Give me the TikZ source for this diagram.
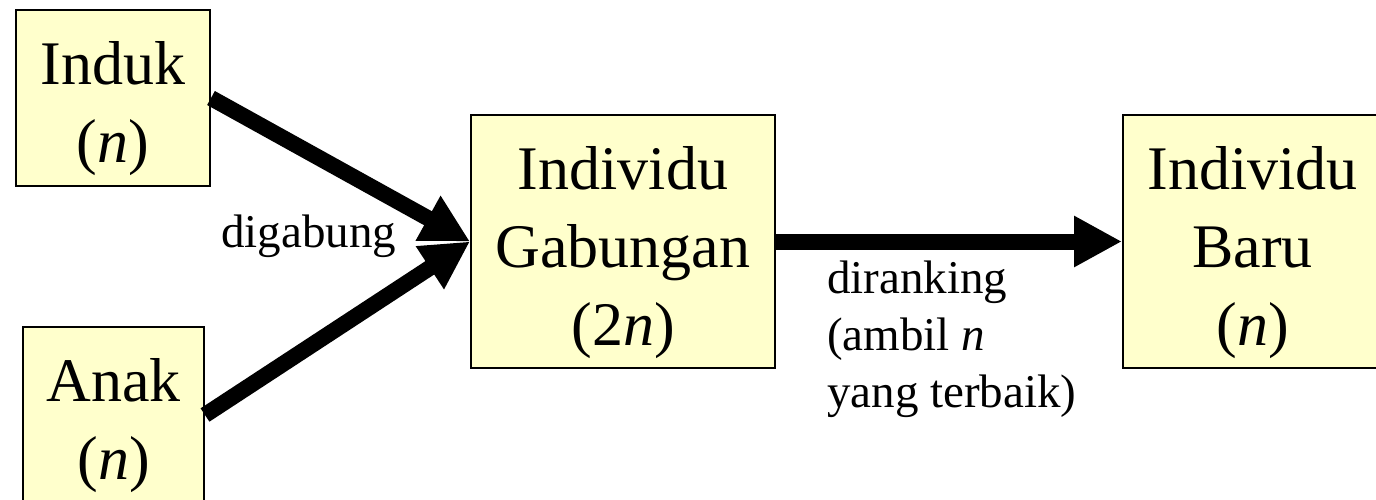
\documentclass[tikz,border=0pt]{standalone}
\usepackage{fontspec}
\setmainfont{Liberation Serif}
\usetikzlibrary{arrows.meta}
\definecolor{boxfill}{HTML}{FFFFCC}
\begin{document}
\begin{tikzpicture}[x=1pt,y=-1pt,
  box/.style={draw=black, line width=2pt, fill=boxfill, inner sep=0pt},
  big/.style={font=\fontsize{62}{78}\selectfont, align=center, inner sep=0pt},
  small/.style={font=\fontsize{47}{57}\selectfont, inner sep=0pt},
  fatarrow/.style={line width=16pt, -{Triangle[length=48pt,width=48pt]}}]
\useasboundingbox (0,0) rectangle (1376,499);
\clip (0,0) rectangle (1376,499);
% boxes
\node[box, minimum width=194pt, minimum height=176pt] (induk) at (113,98) {};
\node[big] (indukT) at (113,108.5) {Induk\\(\textit{n})};
\node[box, minimum width=181pt, minimum height=176pt] (anak) at (113.5,415) {};
\node[big] (anakT) at (113.5,425.5) {Anak\\(\textit{n})};
\node[box, minimum width=304pt, minimum height=253pt] (gab) at (623,241.5) {};
\node[big] (gabT) at (623,253) {Individu\\Gabungan\\(2\textit{n})};
\node[box, minimum width=259pt, minimum height=253pt] (baru) at (1252.5,241.5) {};
\node[big] (baruT) at (1252.5,253) {Individu\\Baru\\(\textit{n})};
% arrows
\draw[fatarrow] (induk.east) -- (gab.west);
\draw[fatarrow] (anak.east) -- (gab.west);
\draw[fatarrow] (gab.east) -- (baru.west);
% labels
\node[small, anchor=base west] (lgab) at (221,247) {digabung};
\node[small, anchor=north west, align=left] (lrank) at (827,261) {diranking\\(ambil \textit{n}\\yang terbaik)};
\end{tikzpicture}
\end{document}
